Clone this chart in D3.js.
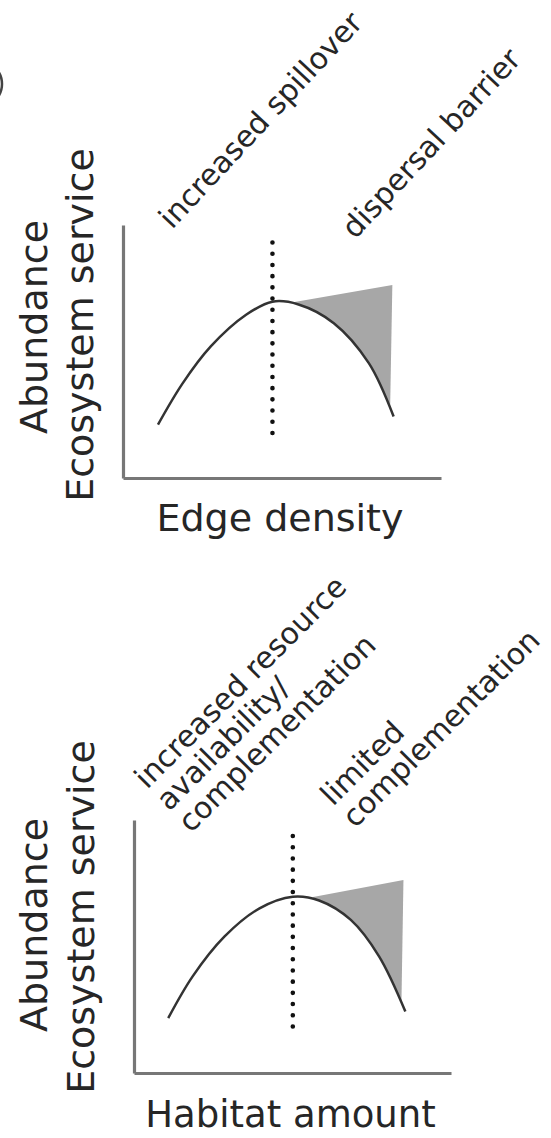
<!DOCTYPE html>
<html>
<head>
<meta charset="utf-8">
<script src="https://cdn.jsdelivr.net/npm/d3@7.9.0/dist/d3.min.js"></script>
<style>
  html, body { margin: 0; padding: 0; background: #fff; }
  svg { display: block; }
  text { font-family: "DejaVu Sans", Verdana, sans-serif; fill: #262626; }
</style>
</head>
<body>
<svg id="chart" width="551" height="1138"></svg>
<script>
// ---- data (x and y both on a 0..10 axis scale) ----
const edgeCurve = [[1.10, 2.11], [1.88, 3.75], [2.76, 5.20], [3.87, 6.45], [4.70, 6.97],
                   [5.52, 6.86], [6.63, 6.12], [7.73, 4.54], [8.51, 2.43]];
const habitatCurve = [[1.08, 2.17], [1.85, 3.82], [2.85, 5.39], [3.96, 6.51], [5.01, 6.97],
                      [5.84, 6.82], [6.84, 6.05], [7.73, 4.61], [8.56, 2.43]];

// vertical dotted threshold: x, y from, y to
const edgeThreshold = [4.70, 1.78, 9.60];
const habitatThreshold = [5.01, 1.84, 9.67];

// grey wedge: top edge (left, right) and foot of the right edge
const edgeWedge = [[5.35, 6.95], [8.47, 7.63], [8.36, 0]];
const habitatWedge = [[5.65, 6.96], [8.50, 7.63], [8.40, 0]];

const yLabels = ['Abundance', 'Ecosystem service'];
const edgeXLabel = 'Edge density';
const habitatXLabel = 'Habitat amount';
const edgeNotes = [['increased spillover'], ['dispersal barrier']];
const habitatNotes = [['increased resource', 'availability/', 'complementation'],
                      ['limited', 'complementation']];

// ---- layout ----
const svg = d3.select('#chart');

const panels = [
  { curve: edgeCurve, thr: edgeThreshold, wedge: edgeWedge, xLabel: edgeXLabel, notes: edgeNotes,
    x0: 123, x1: 441, yTop: 225, yBot: 478, xLabelY: 531, labSize: 38, yLabX: [47, 93], yLabY: [327, 325],
    notePos: [[172, 230], [355, 240]], angle: -47 },
  { curve: habitatCurve, thr: habitatThreshold, wedge: habitatWedge, xLabel: habitatXLabel, notes: habitatNotes,
    x0: 134, x1: 451, yTop: 820, yBot: 1073, xLabelY: 1127, labSize: 37, yLabX: [47, 94], yLabY: [925, 917],
    notePos: [[147, 790], [333, 807]], angle: -45 }
];

// cut-off panel marker at the top-left edge
svg.append('circle')
  .attr('cx', -21).attr('cy', 84).attr('r', 23)
  .attr('fill', 'none').attr('stroke', '#444').attr('stroke-width', 2.5);

panels.forEach((p, i) => {
  const x = d3.scaleLinear().domain([0, 10]).range([p.x0, p.x1]);
  const y = d3.scaleLinear().domain([0, 10]).range([p.yBot, p.yTop]);
  const g = svg.append('g');

  const line = d3.line().x(d => x(d[0])).y(d => y(d[1])).curve(d3.curveCatmullRom.alpha(0.5));
  const first = p.curve[0], last = p.curve[p.curve.length - 1];

  // region above the curve, used to clip the wedge
  g.append('clipPath').attr('id', 'above' + i)
    .append('path')
    .attr('d', line(p.curve) + `L${x(last[0])},${y(10)}L${x(first[0])},${y(10)}Z`);

  const w = p.wedge;
  const wedgePts = [w[0], w[1], w[2], [w[0][0], 0]];
  g.append('path')
    .attr('d', d3.line().x(d => x(d[0])).y(d => y(d[1]))(wedgePts) + 'Z')
    .attr('fill', '#a7a7a7')
    .attr('clip-path', `url(#above${i})`);

  // axes (bare lines, no ticks)
  g.append('g')
    .attr('transform', `translate(0,${p.yBot})`)
    .call(d3.axisBottom(x).ticks(0).tickSizeOuter(0))
    .call(a => a.select('.domain').attr('stroke', '#777').attr('stroke-width', 3.2));
  g.append('g')
    .attr('transform', `translate(${p.x0},0)`)
    .call(d3.axisLeft(y).ticks(0).tickSizeOuter(0))
    .call(a => a.select('.domain').attr('stroke', '#777').attr('stroke-width', 3.2));

  // response curve
  g.append('path')
    .attr('d', line(p.curve))
    .attr('fill', 'none')
    .attr('stroke', '#333')
    .attr('stroke-width', 2.5);

  // dotted threshold
  g.append('line')
    .attr('x1', x(p.thr[0])).attr('x2', x(p.thr[0]))
    .attr('y1', y(p.thr[1])).attr('y2', y(p.thr[2]))
    .attr('stroke', '#111')
    .attr('stroke-width', 4.6)
    .attr('stroke-linecap', 'round')
    .attr('stroke-dasharray', '0 11.2');

  // axis titles
  g.append('text')
    .attr('x', (p.x0 + p.x1) / 2 - 2)
    .attr('y', p.xLabelY)
    .attr('text-anchor', 'middle')
    .attr('font-size', p.labSize)
    .text(p.xLabel);

  yLabels.forEach((t, k) => {
    g.append('text')
      .attr('transform', `translate(${p.yLabX[k]},${p.yLabY[k]}) rotate(-90)`)
      .attr('text-anchor', 'middle')
      .attr('font-size', 38)
      .text(t);
  });

  // slanted notes
  p.notes.forEach((lines, k) => {
    const t = g.append('text')
      .attr('transform', `translate(${p.notePos[k][0]},${p.notePos[k][1]}) rotate(${p.angle})`)
      .attr('font-size', 30);
    lines.forEach((s, j) => {
      t.append('tspan').attr('x', 0).attr('y', j * 31).text(s);
    });
  });
});
</script>
</body>
</html>
